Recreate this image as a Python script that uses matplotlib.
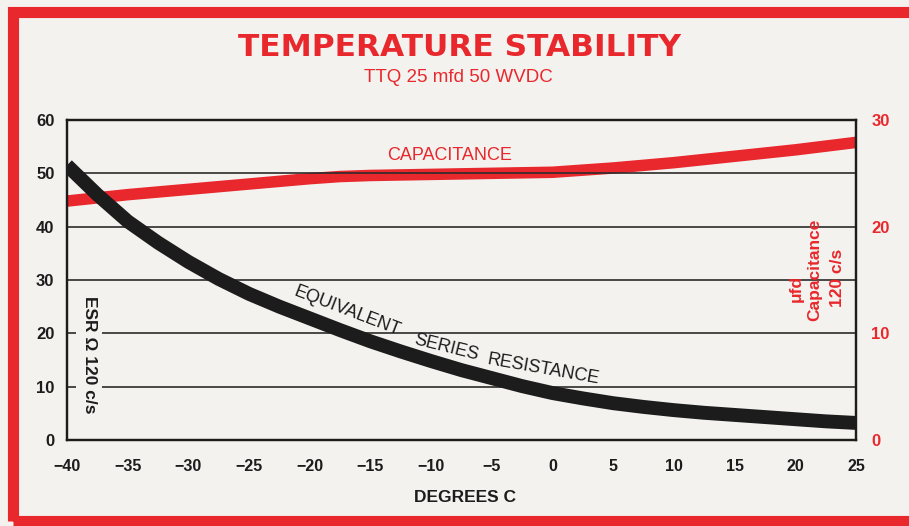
import matplotlib
matplotlib.use("Agg")
import matplotlib.pyplot as plt
from matplotlib.patches import Rectangle, Polygon

# Temperature stability of a TTQ 25 mfd 50 WVDC capacitor, read every 2.5 deg C
temps = [-40, -37.5, -35, -32.5, -30, -27.5, -25, -22.5, -20, -17.5, -15, -12.5, -10,
         -7.5, -5, -2.5, 0, 2.5, 5, 7.5, 10, 12.5, 15, 17.5, 20, 22.5, 25]
esr = [51.5, 46.0, 41.0, 37.0, 33.4, 30.2, 27.4, 25.0, 22.8, 20.6, 18.5, 16.6, 14.8,
       13.1, 11.6, 10.1, 8.8, 7.8, 6.9, 6.2, 5.6, 5.1, 4.7, 4.3, 3.9, 3.5, 3.2]
capacitance = [22.4, 22.7, 23.0, 23.25, 23.5, 23.75, 24.0, 24.25, 24.5, 24.7, 24.8, 24.85,
               24.9, 24.95, 25.0, 25.05, 25.1, 25.3, 25.5, 25.75, 26.0, 26.3, 26.6, 26.9,
               27.2, 27.55, 27.9]

esr_ticks = [0, 10, 20, 30, 40, 50, 60]
cap_ticks = [0, 10, 20, 30]
temp_ticks = [-40, -35, -30, -25, -20, -15, -10, -5, 0, 5, 10, 15, 20, 25]

RED = "#e8282c"
PAPER = "#f3f2ef"
INK = "#1c1c1c"
W, H = 909, 526

plt.rcParams["font.family"] = ["Liberation Sans", "DejaVu Sans"]

fig = plt.figure(figsize=(W / 100, H / 100), dpi=100, facecolor=PAPER)


def fx(x):
    return x / W


def fy(y):
    return 1 - y / H


ax = fig.add_axes([fx(67), fy(440), fx(856) - fx(67), fy(120) - fy(440)])
ax2 = ax.twinx()
# keep the ESR axes on top so the grid and black curve sit over the red line
ax.set_zorder(ax2.get_zorder() + 1)
ax.patch.set_visible(False)
ax2.patch.set_facecolor(PAPER)

ax.set_xlim(-40, 25)
ax.set_ylim(0, 60)
ax2.set_ylim(0, 30)

ax.set_xticks(temp_ticks)
ax.set_xticklabels([f"\u2212{abs(t)}" if t < 0 else str(t) for t in temp_ticks])
ax.set_yticks(esr_ticks)
ax2.set_yticks(cap_ticks)

ax.tick_params(axis="both", length=0, colors=INK, labelsize=11.5)
ax.tick_params(axis="y", pad=9, labelsize=12)
ax.tick_params(axis="x", pad=14)
ax2.tick_params(axis="y", length=0, colors=RED, labelsize=12, pad=11)
for lab in ax.get_xticklabels() + ax.get_yticklabels() + ax2.get_yticklabels():
    lab.set_fontweight("bold")

ax.grid(axis="y", color="#2b2b2b", linewidth=1.2, zorder=0.5)
ax.grid(axis="x", visible=False)
for a in (ax, ax2):
    for s in a.spines.values():
        s.set_color(INK)
        s.set_linewidth(1.6)

ax2.plot(temps, capacitance, color=RED, linewidth=8.3, solid_capstyle="butt",
         solid_joinstyle="round")
ax.plot(temps, esr, color=INK, linewidth=10, solid_capstyle="butt",
        solid_joinstyle="round", zorder=3)

# paper-coloured band behind the curve label, breaking the grid lines
band = [(292, 283), (405, 323), (480, 341), (603, 366),
        (603, 390), (480, 368), (405, 349), (292, 308)]
ax.add_patch(Polygon([(fx(x), fy(y)) for x, y in band], closed=True,
                     transform=fig.transFigure, facecolor=PAPER,
                     edgecolor="none", zorder=1))

ax.text(fx(450), fy(155), "CAPACITANCE", transform=fig.transFigure, color=RED,
        fontsize=13, ha="center", va="center", zorder=2)
for word, x, y, rot in [("EQUIVALENT", 347, 311, -21),
                        ("SERIES", 446, 348, -14),
                        ("RESISTANCE", 543, 369, -10)]:
    ax.text(fx(x), fy(y), word, transform=fig.transFigure, color=INK,
            fontsize=13, ha="center", va="center", rotation=rot,
            rotation_mode="anchor", zorder=2)

ax.text(fx(89), fy(355), "ESR \u03a9 120 c/s", transform=fig.transFigure,
        color=INK, fontsize=12.5, fontweight="bold", rotation=270,
        ha="center", va="center", bbox=dict(facecolor=PAPER, edgecolor="none", pad=4),
        zorder=2)
ax.text(fx(796), fy(288), "\u03bcfd", transform=fig.transFigure, color=RED,
        fontsize=12.5, fontweight="bold", rotation=90, ha="center", va="center",
        zorder=2)
ax.text(fx(815), fy(270), "Capacitance", transform=fig.transFigure, color=RED,
        fontsize=12.5, fontweight="bold", rotation=90, ha="center", va="center",
        zorder=2)
ax.text(fx(837), fy(278), "120 c/s", transform=fig.transFigure, color=RED,
        fontsize=12.5, fontweight="bold", rotation=90, ha="center", va="center",
        zorder=2)

fig.text(fx(465), fy(497), "DEGREES C", color=INK, fontsize=12.5,
         fontweight="bold", ha="center", va="center")
fig.text(fx(459), fy(47), "TEMPERATURE STABILITY", color=RED, fontsize=22.5,
         fontweight="heavy", family="DejaVu Sans", ha="center", va="center")
fig.text(fx(458), fy(78), "TTQ 25 mfd 50 WVDC", color=RED, fontsize=13.5,
         ha="center", va="center")

# red frame, running off the right edge
fig.patches.append(Rectangle((fx(13), fy(521)), fx(930) - fx(13), fy(12) - fy(521),
                             transform=fig.transFigure, fill=False,
                             edgecolor=RED, linewidth=8))

fig.savefig("out.png", dpi=100, facecolor=PAPER)
